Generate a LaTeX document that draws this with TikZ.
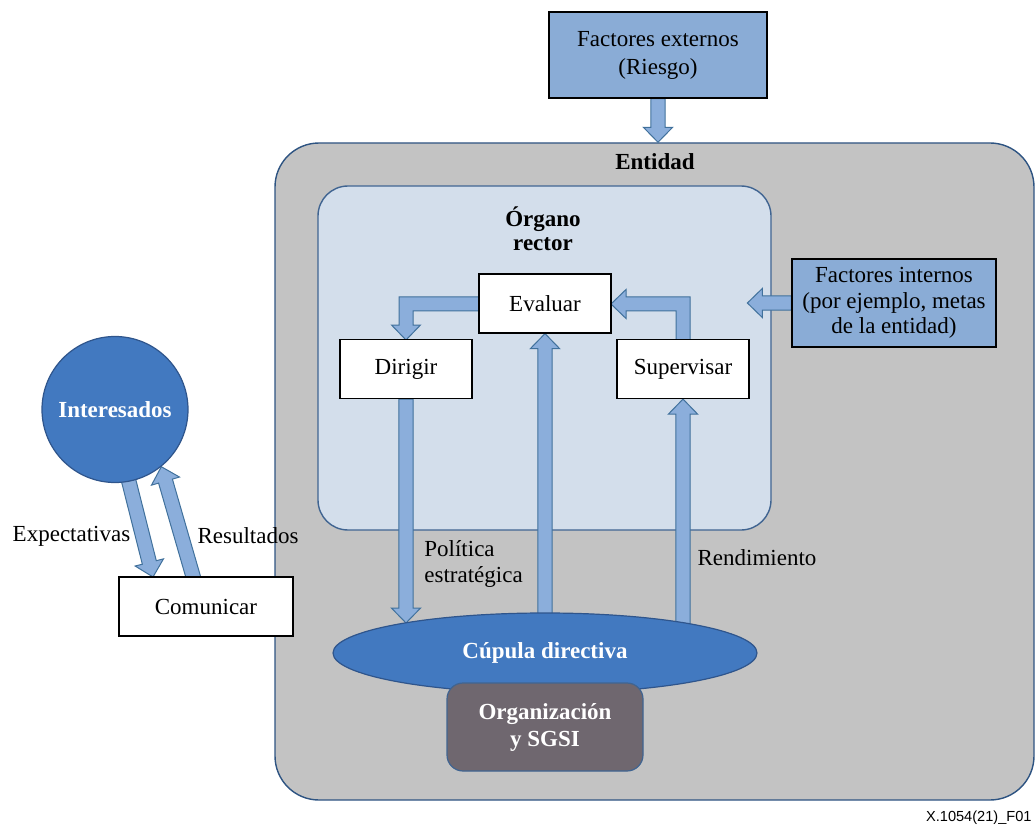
\documentclass[tikz,border=0pt]{standalone}
\usepackage{fontspec}
\setmainfont{Liberation Serif}
\newfontfamily\figsans{Liberation Sans}
\usetikzlibrary{calc,shapes.geometric}
\definecolor{entfill}{RGB}{195,195,195}
\definecolor{entline}{RGB}{46,84,130}
\definecolor{panfill}{RGB}{211,222,235}
\definecolor{panline}{RGB}{64,100,145}
\definecolor{boxblue}{RGB}{138,172,214}
\definecolor{arrfill}{RGB}{139,174,219}
\definecolor{arrline}{RGB}{65,113,156}
\definecolor{dkblue}{RGB}{66,121,192}
\definecolor{dkline}{RGB}{47,85,140}
\definecolor{orgfill}{RGB}{111,103,111}
\pgfdeclarelayer{bg}
\pgfdeclarelayer{arr}
\pgfsetlayers{bg,arr,main}
\newcommand\barrow[2]{%
  \coordinate (bA) at (#1);
  \coordinate (bT) at (#2);
  \coordinate (bH) at ($(bT)!7.5pt!(bA)$);
  \draw[blockarr] ($(bA)!3.6pt!90:(bT)$) -- ($(bH)!3.6pt!90:(bT)$) -- ($(bH)!7.3pt!90:(bT)$) -- (bT)
     -- ($(bH)!7.3pt!-90:(bT)$) -- ($(bH)!3.6pt!-90:(bT)$) -- ($(bA)!3.6pt!-90:(bT)$) -- cycle;
}
\begin{document}
\begin{tikzpicture}[x=0.5pt,y=-0.5pt,
  font=\fontsize{11.5}{13}\selectfont,
  blockarr/.style={fill=arrfill,draw=arrline,line width=0.5pt,line join=miter},
  whitebox/.style={draw=black,fill=white,line width=0.6pt,inner sep=0pt,minimum width=66pt,minimum height=29.5pt},
  factbox/.style={draw=black,fill=boxblue,line width=0.6pt,inner sep=0pt,align=center},
  lbl/.style={inner sep=0pt,align=left}]
\useasboundingbox (0,0) rectangle (1035,829);

\begin{pgfonlayer}{bg}
\node[draw=entline,fill=entfill,line width=0.7pt,rounded corners=22pt,inner sep=0pt,
      minimum width=379.5pt,minimum height=328.5pt] (ent) at (654.5,471.5) {};
\node[draw=panline,fill=panfill,line width=0.7pt,rounded corners=15pt,inner sep=0pt,
      minimum width=226.5pt,minimum height=172pt] (pan) at (544.5,358) {};
\end{pgfonlayer}

\node[factbox,minimum width=109pt,minimum height=43pt,font=\fontsize{11.5}{14}\selectfont] (fe) at (658,55) {Factores externos\\(Riesgo)};
\node[inner sep=0pt,font=\fontsize{11.5}{13}\selectfont\bfseries] (entl) at (655,162) {Entidad};
\node[inner sep=0pt,align=center,font=\fontsize{11.5}{12}\selectfont\bfseries] (orl) at (543,229) {Órgano\\rector};
\node[whitebox] (eval) at (545,303.5) {Evaluar};
\node[whitebox] (dir) at (406,369) {Dirigir};
\node[whitebox] (sup) at (683,369) {Supervisar};
\node[factbox,minimum width=102pt,minimum height=44pt,font=\fontsize{11.5}{12.75}\selectfont] (fi) at (894,303) {Factores internos\\(por ejemplo, metas\\de la entidad)};
\node[ellipse,draw=dkline,fill=dkblue,line width=0.6pt,inner sep=0pt,minimum width=212pt,minimum height=40pt,
      text=white,font=\fontsize{11.5}{13}\selectfont\bfseries] (cup) at (545,653) {Cúpula directiva};
\node[draw=panline,fill=orgfill,line width=0.6pt,rounded corners=8pt,inner sep=0pt,minimum width=98pt,minimum height=44pt,
      text=white,align=center,font=\fontsize{11.5}{13.5}\selectfont\bfseries] (org) at (545,727) {Organización\\y SGSI};
\node[circle,draw=dkline,fill=dkblue,line width=0.6pt,inner sep=0pt,minimum size=73pt,
      text=white,font=\fontsize{11.5}{13}\selectfont\bfseries] (int) at (115,409.5) {Interesados};
\node[draw=black,fill=white,line width=0.6pt,inner sep=0pt,minimum width=87pt,minimum height=29.5pt] (com) at (206,606.5) {Comunicar};

\coordinate (fitip) at ($(fi.west)+(-44,0)$);
\coordinate (dirtip) at (406,623);
\coordinate (exps) at (124.7,465);
\coordinate (expt) at (153,577);
\coordinate (ress) at (197,590);

\begin{pgfonlayer}{arr}
\barrow{fe.south}{fe.south |- ent.north}
\barrow{fi.west}{fitip}
\barrow{eval.south |- cup.center}{eval.south}
\barrow{dir.south}{dirtip}
\barrow{sup.south |- cup.center}{sup.south}
\barrow{exps}{expt}
\barrow{ress}{int.-51}
% Evaluar -> Dirigir
\draw[blockarr] (479,297) -- (399,297) -- (399,325) -- (391.5,325) -- (406,340) -- (420.5,325) -- (413,325) -- (413,311) -- (479,311) -- cycle;
% Supervisar -> Evaluar
\draw[blockarr] (676,340) -- (676,311) -- (626,311) -- (626,318.5) -- (611,304) -- (626,289.5) -- (626,297) -- (690,297) -- (690,340) -- cycle;
\end{pgfonlayer}

\node[lbl] (lexp) at (71.5,536) {Expectativas};
\node[lbl] (lres) at (248,536) {Resultados};
\node[lbl,anchor=west] (lpol) at (424,564) {Política\\estratégica};
\node[lbl] (lren) at (757,558) {Rendimiento};
\node[inner sep=0pt,anchor=east,font=\figsans\fontsize{7.3}{8}\selectfont] (fig) at (1032,818) {X.1054(21)\_F01};
\end{tikzpicture}
\end{document}
